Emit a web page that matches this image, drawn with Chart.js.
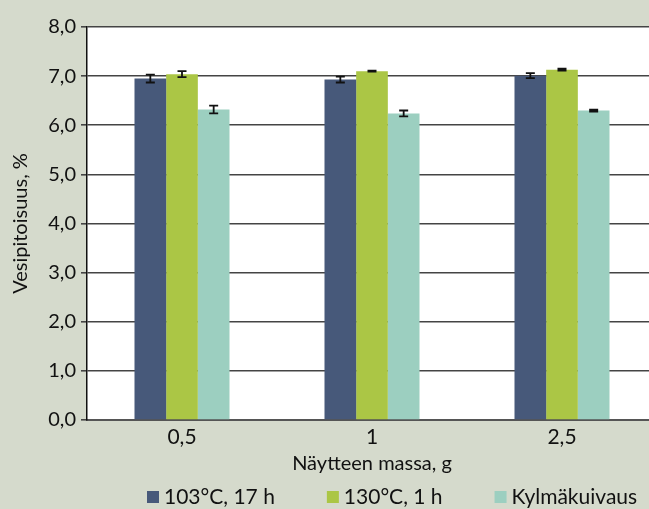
<!DOCTYPE html>
<html lang="fi">
<head>
<meta charset="utf-8">
<title>Vesipitoisuus näytteen massan mukaan</title>
<script src="https://cdn.jsdelivr.net/npm/chart.js@4.4.1/dist/chart.umd.min.js"></script>
<style>
  html, body { margin: 0; padding: 0; background: #d5dacc; }
  #frame { width: 649px; height: 509px; overflow: hidden; position: relative; }
  #wrap { width: 670px; height: 509px; position: absolute; left: 0; top: 0; }
</style>
</head>
<body>
<div id="frame">
  <div id="wrap"><canvas id="chart" width="670" height="509"></canvas></div>
</div>
<script>
// Näytteen massa (g)
const categories = ['0,5', '1', '2,5'];

// Vesipitoisuus (%) kuivausmenetelmittäin
const seriesNames = ['103°C, 17 h', '130°C, 1 h', 'Kylmäkuivaus'];
const oven103 = [6.95, 6.93, 7.01];
const oven130 = [7.04, 7.10, 7.13];
const freezeDry = [6.32, 6.24, 6.30];

// Keskihajonnat virhepalkkeihin
const oven103Err = [0.08, 0.06, 0.05];
const oven130Err = [0.06, 0.01, 0.02];
const freezeDryErr = [0.08, 0.06, 0.02];

// Y-akselin jakoviivat
const yTicks = [0, 1, 2, 3, 4, 5, 6, 7, 8];

const colors = ['#47597a', '#abc645', '#9ccfc0'];
const FONT = 'Lato, "Open Sans", "DejaVu Sans", sans-serif';

const fmt = v => v.toFixed(1).replace('.', ',');

// Valkoinen piirtoalue harmaalla pohjalla
const plotBackground = {
  id: 'plotBackground',
  beforeDraw(chart) {
    const { ctx, chartArea: a } = chart;
    ctx.save();
    ctx.fillStyle = '#ffffff';
    ctx.fillRect(a.left, a.top, a.right - a.left, a.bottom - a.top);
    ctx.restore();
  }
};

// Virhepalkit piirretään pylväiden päälle
const errorBars = {
  id: 'errorBars',
  afterDatasetsDraw(chart) {
    const { ctx } = chart;
    const y = chart.scales.y;
    ctx.save();
    ctx.strokeStyle = '#111';
    ctx.lineWidth = 1.8;
    chart.data.datasets.forEach((ds, di) => {
      const meta = chart.getDatasetMeta(di);
      meta.data.forEach((bar, i) => {
        const v = ds.data[i];
        const e = ds.errors[i];
        const top = y.getPixelForValue(v + e);
        const bot = y.getPixelForValue(v - e);
        const half = 4.5;
        ctx.beginPath();
        ctx.moveTo(bar.x, top); ctx.lineTo(bar.x, bot);
        ctx.moveTo(bar.x - half, top); ctx.lineTo(bar.x + half, top);
        ctx.moveTo(bar.x - half, bot); ctx.lineTo(bar.x + half, bot);
        ctx.stroke();
      });
    });
    ctx.restore();
  }
};

// Selite rivinä akselin otsikon alla
const bottomLegend = {
  id: 'bottomLegend',
  afterDraw(chart) {
    const { ctx } = chart;
    ctx.save();
    ctx.font = '21px ' + FONT;
    ctx.textBaseline = 'middle';
    ctx.textAlign = 'left';
    let x = 147;
    const cy = 497;
    const box = 12;
    chart.data.datasets.forEach(ds => {
      ctx.fillStyle = ds.backgroundColor;
      ctx.fillRect(x, cy - box / 2, box, box);
      ctx.fillStyle = '#111';
      ctx.fillText(ds.label, x + box + 5, cy);
      x += box + 5 + ctx.measureText(ds.label).width + 52;
    });
    ctx.restore();
  }
};

const values = [oven103, oven130, freezeDry];
const errs = [oven103Err, oven130Err, freezeDryErr];

new Chart(document.getElementById('chart'), {
  type: 'bar',
  data: {
    labels: categories,
    datasets: seriesNames.map((name, i) => ({
      label: name,
      data: values[i],
      errors: errs[i],
      backgroundColor: colors[i],
      borderWidth: 0
    }))
  },
  options: {
    responsive: false,
    animation: false,
    events: [],
    devicePixelRatio: 1,
    layout: { padding: { top: 27, right: 13, bottom: 0, left: 0 } },
    datasets: { bar: { categoryPercentage: 0.5, barPercentage: 1 } },
    plugins: {
      legend: { display: false },
      tooltip: { enabled: false }
    },
    scales: {
      x: {
        grid: { display: false, drawTicks: false },
        border: { display: true, color: '#555', width: 2 },
        ticks: { color: '#111', font: { family: FONT, size: 21 }, padding: 5 },
        title: {
          display: true,
          text: 'Näytteen massa, g',
          color: '#111',
          font: { family: FONT, size: 20 },
          padding: { top: 0, bottom: 33 }
        },
        afterFit(scale) { scale.height = 89; }
      },
      y: {
        min: 0,
        max: 8,
        afterBuildTicks(scale) { scale.ticks = yTicks.map(v => ({ value: v })); },
        grid: { color: '#444', lineWidth: 1.6, tickLength: 6, tickColor: '#444' },
        border: { display: true, color: '#111', width: 1.5 },
        ticks: {
          color: '#111',
          font: { family: FONT, size: 20 },
          padding: 5,
          callback: v => fmt(v)
        },
        title: {
          display: true,
          text: 'Vesipitoisuus, %',
          color: '#111',
          font: { family: FONT, size: 20 },
          padding: { top: 9, bottom: 0 }
        },
        afterFit(scale) { scale.width = 87; }
      }
    }
  },
  plugins: [plotBackground, errorBars, bottomLegend]
});
</script>
</body>
</html>
